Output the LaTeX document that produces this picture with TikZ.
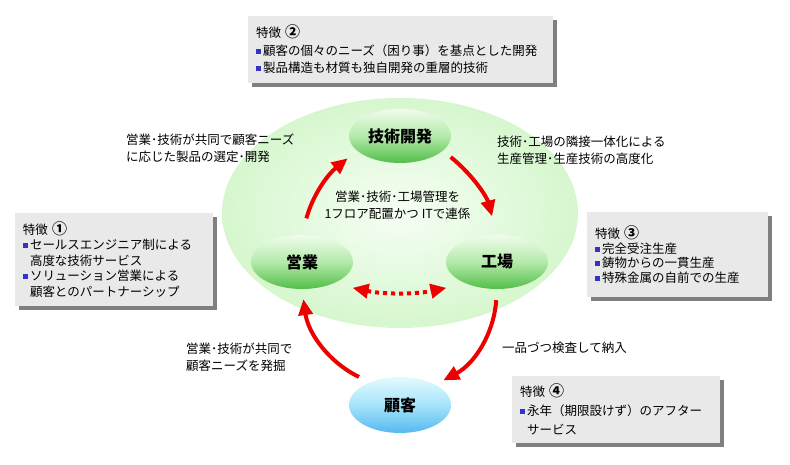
\documentclass[tikz,border=0pt]{standalone}
\usepackage{fontspec}
\setmainfont{Noto Sans CJK JP}
\usepackage{xcolor}
\usetikzlibrary{shapes.geometric,arrows.meta,shadows,positioning}
\definecolor{fieldin}{RGB}{246,254,244}
\definecolor{fieldout}{RGB}{214,247,206}
\definecolor{greentop}{RGB}{240,252,236}
\definecolor{greenmid}{RGB}{180,234,170}
\definecolor{greenbot}{RGB}{82,190,72}
\definecolor{bluetop}{RGB}{228,250,255}
\definecolor{bluemid}{RGB}{165,228,250}
\definecolor{bluebot}{RGB}{85,185,240}
\definecolor{arrowred}{RGB}{238,0,0}
\definecolor{boxgray}{RGB}{233,233,233}
\definecolor{shadegray}{RGB}{128,128,128}
\definecolor{bulletblue}{RGB}{51,51,204}
\tikzstyle{every node}=[font=\fontsize{12.5}{17}\selectfont]
\tikzstyle{unit}=[ellipse,minimum width=102pt,minimum height=54pt,inner sep=0pt,font=\fontsize{16}{18}\selectfont\bfseries]
\tikzstyle{greenunit}=[unit,top color=greentop,bottom color=greenbot,middle color=greenmid]
\tikzstyle{blueunit}=[unit,minimum height=56pt,top color=bluetop,bottom color=bluebot,middle color=bluemid]
\tikzstyle{feature}=[rectangle,fill=boxgray,inner xsep=8pt,align=left,drop shadow={shadow xshift=4pt,shadow yshift=-4pt,fill=shadegray,opacity=1}]
\tikzstyle{note}=[inner sep=0pt,align=left]
\tikzstyle{flow}=[draw=arrowred,line width=4pt,-{Triangle[length=16pt,width=14pt]}]
\tikzstyle{link}=[draw=arrowred,line width=4pt,dash pattern=on 4pt off 4pt,{Triangle[length=16pt,width=14pt]}-{Triangle[length=16pt,width=14pt]}]
\newcommand{\sqbullet}{\textcolor{bulletblue}{\rule[1.5pt]{5pt}{5pt}}\hspace{2pt}}
\newcommand{\sqindent}{\hspace{7pt}}
\newcommand{\featno}[1]{{\fontsize{15}{15}\selectfont\bfseries #1}}

\begin{document}
\begin{tikzpicture}[x=1pt,y=1pt]
\useasboundingbox (0,0) rectangle (790,465);

\node[ellipse,minimum width=356pt,minimum height=230pt,inner color=fieldin,outer color=fieldout] (field) at (400,252) {};

\node[greenunit] (gijutsu) at (400,329) {技術開発};
\node[greenunit] (eigyo) at (302,203) {営業};
\node[greenunit] (kojo) at (497,203) {工場};
\node[blueunit] (kokyaku) at (400,60) {顧客};

\draw[flow,shorten <=17pt,shorten >=12pt] (eigyo.north) to[out=75,in=219] (gijutsu.199);
\draw[flow,shorten <=10pt,shorten >=19pt] (gijutsu.341) to[out=-39,in=105] (kojo.north);
\draw[flow,shorten <=11pt,shorten >=9pt] (kojo.south) to[out=266,in=28] (kokyaku.30);
\draw[flow,shorten <=12pt,shorten >=10pt] (kokyaku.143) to[out=154,in=278] (eigyo.south);
\draw[link,shorten <=20pt,shorten >=20pt] (eigyo.-35) to[bend right=12] (kojo.215);

\node[note,anchor=west] (needs) at (126,316.5) {営業･技術が共同で顧客ニーズ\\に応じた製品の選定･開発};
\node[note,anchor=west] (adjacent) at (497,315) {技術･工場の隣接一体化による\\生産管理･生産技術の高度化};
\node[note,align=center] (onefloor) at (397.5,259.5) {営業･技術･工場管理を\\1フロア配置かつ ITで連係};
\node[note,anchor=west] (discover) at (186,108) {営業･技術が共同で\\顧客ニーズを発掘};
\node[note,anchor=west] (inspect) at (502,117) {一品づつ検査して納入};

\node[feature,text width=289pt,minimum height=67pt,font=\fontsize{12.5}{17.5}\selectfont] (feat2) at (400.5,415.5)
  {特徴 \featno{②}\\\sqbullet 顧客の個々のニーズ（困り事）を基点とした開発\\\sqbullet 製品構造も材質も独自開発の重層的技術};
\node[feature,text width=182pt,minimum height=93pt,font=\fontsize{12.5}{15.5}\selectfont] (feat1) at (114,205.5)
  {特徴 \featno{①}\\\sqbullet セールスエンジニア制による\\\sqindent 高度な技術サービス\\\sqbullet ソリューション営業による\\\sqindent 顧客とのパートナーシップ};
\node[feature,text width=165pt,minimum height=85pt,font=\fontsize{12.5}{14.5}\selectfont] (feat3) at (677.5,210.5)
  {特徴 \featno{③}\\\sqbullet 完全受注生産\\\sqbullet 鋳物からの一貫生産\\\sqbullet 特殊金属の自前での生産};
\node[feature,text width=192pt,minimum height=67pt,font=\fontsize{12.5}{19}\selectfont] (feat4) at (616,55.5)
  {特徴 \featno{④}\\\sqbullet 永年（期限設けず）のアフター\\\sqindent サービス};
\end{tikzpicture}
\end{document}
